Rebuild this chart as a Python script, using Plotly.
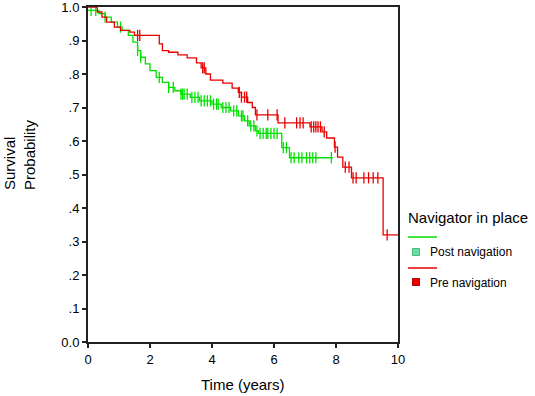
import numpy as np
import plotly.graph_objects as go

# ---- data ----
post_times = [0, 0.35, 0.55, 0.75, 0.95, 1.1, 1.3, 1.45, 1.6, 1.7, 1.85, 2.0, 2.2, 2.4, 2.6, 2.8,
              3.0, 3.3, 3.6, 4.0, 4.3, 4.6, 4.85, 5.05, 5.2, 5.4, 5.5, 6.25, 6.5]
post_surv = [0.99, 0.98, 0.97, 0.955, 0.94, 0.93, 0.915, 0.895, 0.87, 0.85, 0.83, 0.81, 0.79, 0.775,
             0.76, 0.75, 0.74, 0.73, 0.72, 0.71, 0.70, 0.69, 0.675, 0.66, 0.645, 0.63, 0.623, 0.58, 0.55]
post_end = 7.9
post_censor = [0.1, 0.25, 0.55, 1.05, 1.6, 1.7, 2.3, 2.6, 2.75, 3.0, 3.05, 3.1, 3.2, 3.35, 3.45,
               3.55, 3.65, 3.75, 3.85, 3.95, 4.05, 4.15, 4.2, 4.35, 4.45, 4.55, 4.7, 4.8, 4.95,
               5.0, 5.15, 5.25, 5.35, 5.45, 5.55, 5.65, 5.75, 5.8, 5.9, 6.0, 6.1, 6.3, 6.4, 6.55,
               6.65, 6.8, 6.9, 7.05, 7.15, 7.25, 7.35, 7.85]

pre_times = [0, 0.3, 0.45, 0.6, 0.85, 1.05, 1.35, 1.5, 2.3, 2.4, 2.6, 2.9, 3.2, 3.5, 3.65, 3.8,
             3.95, 4.35, 4.65, 4.85, 4.95, 5.15, 5.3, 5.4, 6.13, 7.16, 7.55, 7.7, 7.95, 8.05,
             8.22, 8.5, 9.52]
pre_surv = [1.0, 0.985, 0.97, 0.955, 0.94, 0.93, 0.925, 0.915, 0.89, 0.87, 0.865, 0.857, 0.848,
            0.833, 0.818, 0.80, 0.782, 0.773, 0.758, 0.745, 0.731, 0.715, 0.70, 0.678, 0.654,
            0.642, 0.627, 0.609, 0.582, 0.552, 0.522, 0.49, 0.32]
pre_end = 10.0
pre_censor = [1.6, 1.67, 3.7, 3.75, 4.88, 4.95, 5.05, 5.12, 5.45, 5.8, 6.1, 6.35, 6.73, 6.84,
              6.94, 7.2, 7.28, 7.35, 7.42, 7.5, 7.62, 7.97, 8.3, 8.42, 8.55, 8.65, 8.9, 9.05,
              9.2, 9.35, 9.65]

x_ticks = [0, 2, 4, 6, 8, 10]
y_ticks = [0.0, 0.1, 0.2, 0.3, 0.4, 0.5, 0.6, 0.7, 0.8, 0.9, 1.0]
y_ticklabels = ["0.0", ".1", ".2", ".3", ".4", ".5", ".6", ".7", ".8", ".9", "1.0"]

GREEN = "rgb(0,225,0)"
RED = "rgb(232,0,0)"


def step_value(times, surv, t):
    idx = np.searchsorted(np.array(times), np.array(t), side="right") - 1
    return np.array(surv)[idx]


fig = go.Figure()
for times, surv, end, cens, col, name in [
    (post_times, post_surv, post_end, post_censor, GREEN, "Post navigation"),
    (pre_times, pre_surv, pre_end, pre_censor, RED, "Pre navigation"),
]:
    fig.add_trace(go.Scatter(x=list(times) + [end], y=list(surv) + [surv[-1]],
                             mode="lines", line=dict(color=col, width=1.3, shape="hv"),
                             name=name, showlegend=False))
    fig.add_trace(go.Scatter(x=cens, y=step_value(times, surv, cens), mode="markers",
                             marker=dict(symbol="line-ns", size=8,
                                         line=dict(color=col, width=1.3)),
                             showlegend=False, cliponaxis=False))

font = "Liberation Sans, Arial, sans-serif"
fig.update_layout(
    width=535, height=396,
    margin=dict(l=88, r=137, t=7, b=54, autoexpand=False),
    paper_bgcolor="white", plot_bgcolor="white",
    font=dict(family=font, size=13, color="black"),
    showlegend=False,
    xaxis=dict(range=[0, 10], tickvals=x_ticks, ticks="outside", ticklen=4, tickwidth=1.5,
               tickcolor="#222", showline=True, linecolor="#222", linewidth=2, mirror=True,
               showgrid=False, zeroline=False, tickfont=dict(size=13), automargin=False,
               ticklabeloverflow="allow"),
    yaxis=dict(range=[0, 1.0], tickvals=y_ticks, ticktext=y_ticklabels, ticks="outside",
               ticklen=4, tickwidth=1.5, tickcolor="#222", showline=True, linecolor="#222",
               linewidth=2, mirror=True, showgrid=False, zeroline=False,
               tickfont=dict(size=13), automargin=False, ticklabeloverflow="allow"),
)

def px(x):
    return (x - 88) / 310.0

def py(y):
    return (342 - y) / 335.0

ann = [
    dict(text="Time (years)", x=0.5, y=py(385), xref="paper", yref="paper",
         showarrow=False, font=dict(size=15), xanchor="center", yanchor="middle"),
    dict(text="Survival<br>Probability", x=px(19), y=py(155), xref="paper", yref="paper",
         showarrow=False, textangle=-90, align="left", font=dict(size=15),
         xanchor="center", yanchor="middle"),
    dict(text="Navigator in place", x=px(406), y=py(217), xref="paper", yref="paper",
         showarrow=False, font=dict(size=15), xanchor="left", yanchor="middle"),
    dict(text="Post navigation", x=px(428), y=py(252), xref="paper", yref="paper",
         showarrow=False, font=dict(size=12), xanchor="left", yanchor="middle"),
    dict(text="Pre navigation", x=px(428), y=py(283), xref="paper", yref="paper",
         showarrow=False, font=dict(size=12), xanchor="left", yanchor="middle"),
]
fig.update_layout(annotations=ann)

shapes = [
    dict(type="line", xref="paper", yref="paper", x0=px(408), x1=px(437), y0=py(237), y1=py(237),
         line=dict(color=GREEN, width=1.5)),
    dict(type="line", xref="paper", yref="paper", x0=px(408), x1=px(437), y0=py(268), y1=py(268),
         line=dict(color=RED, width=1.5)),
    dict(type="rect", xref="paper", yref="paper", xsizemode="pixel", ysizemode="pixel",
         xanchor=px(416), yanchor=py(252), x0=-3.5, x1=3.5, y0=-3.5, y1=3.5,
         fillcolor="rgb(110,220,170)", line=dict(color="rgb(70,190,120)", width=1)),
    dict(type="rect", xref="paper", yref="paper", xsizemode="pixel", ysizemode="pixel",
         xanchor=px(416), yanchor=py(282), x0=-3.5, x1=3.5, y0=-3.5, y1=3.5,
         fillcolor="rgb(235,0,0)", line=dict(color="rgb(180,0,0)", width=1)),
]
fig.update_layout(shapes=shapes)

fig.write_html("out.html", config={"displayModeBar": False},
               post_script="document.body.style.margin='0';")
